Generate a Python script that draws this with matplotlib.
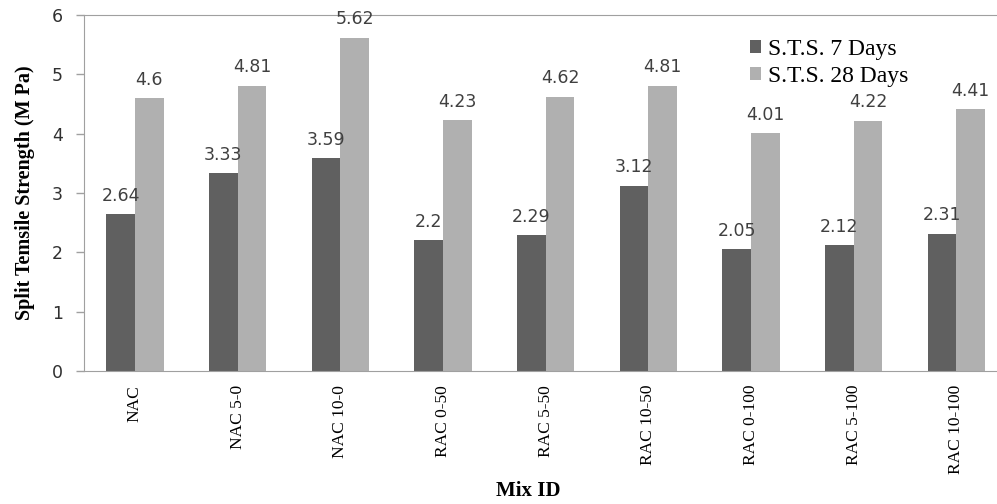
#!/usr/bin/env python3

import numpy as np
import matplotlib
matplotlib.use("Agg")
import matplotlib.pyplot as plt

# ==========================
# DATA
# ==========================
mixes = ["NAC", "NAC 5-0", "NAC 10-0", "RAC 0-50", "RAC 5-50",
         "RAC 10-50", "RAC 0-100", "RAC 5-100", "RAC 10-100"]
sts_7 = [2.64, 3.33, 3.59, 2.2, 2.29, 3.12, 2.05, 2.12, 2.31]
sts_28 = [4.6, 4.81, 5.62, 4.23, 4.62, 4.81, 4.01, 4.22, 4.41]
sts_7_text = ["2.64", "3.33", "3.59", "2.2", "2.29", "3.12", "2.05", "2.12", "2.31"]
sts_28_text = ["4.6", "4.81", "5.62", "4.23", "4.62", "4.81", "4.01", "4.22", "4.41"]

# ==========================
# STYLE
# ==========================
DARK = "#606060"
LIGHT = "#b0b0b0"
AXIS = "#a0a0a0"
SERIF = ["Liberation Serif", "DejaVu Serif"]

fig = plt.figure(figsize=(9.97, 5.04), dpi=100)
ax = fig.add_axes([0.0838, 0.264, 0.927, 0.706])

x = np.arange(len(mixes))
w = 0.28
ax.bar(x - w / 2, sts_7, w, color=DARK, label="S.T.S. 7 Days")
ax.bar(x + w / 2, sts_28, w, color=LIGHT, label="S.T.S. 28 Days")

# value labels above each bar
for xi, v, t in zip(x, sts_7, sts_7_text):
    ax.text(xi - w / 2, v + 0.16, t, ha="center", va="bottom",
            fontsize=12.5, color="#404040")
for xi, v, t in zip(x, sts_28, sts_28_text):
    ax.text(xi + w / 2, v + 0.16, t, ha="center", va="bottom",
            fontsize=12.5, color="#404040")

ax.set_xlim(-0.5, len(mixes) - 0.5)
ax.set_ylim(0, 6)
ax.set_yticks(range(0, 7))
ax.tick_params(axis="y", labelsize=12.5, colors=AXIS, labelcolor="#303030",
               length=6, width=1, pad=9)
ax.set_xticks(x)
ax.set_xticklabels(mixes, rotation=90, family=SERIF, fontsize=12.5)
ax.tick_params(axis="x", length=0, pad=10)

for side in ["left", "bottom", "top"]:
    ax.spines[side].set_color(AXIS)
ax.spines["right"].set_visible(False)

ax.set_ylabel("Split Temsile Strength (M Pa)", family=SERIF,
              fontweight="bold", fontsize=14.5, labelpad=12)
fig.text(0.53, 0.005, "Mix ID", family=SERIF, fontweight="bold",
         fontsize=15, ha="center", va="bottom")

ax.legend(loc="upper left", bbox_to_anchor=(0.711, 0.96), frameon=False,
          prop={"family": SERIF, "size": 17}, handlelength=0.45,
          handleheight=0.45, handletextpad=0.3, labelspacing=0.25,
          borderaxespad=0)

plt.savefig("out.png", dpi=100)
plt.close()
